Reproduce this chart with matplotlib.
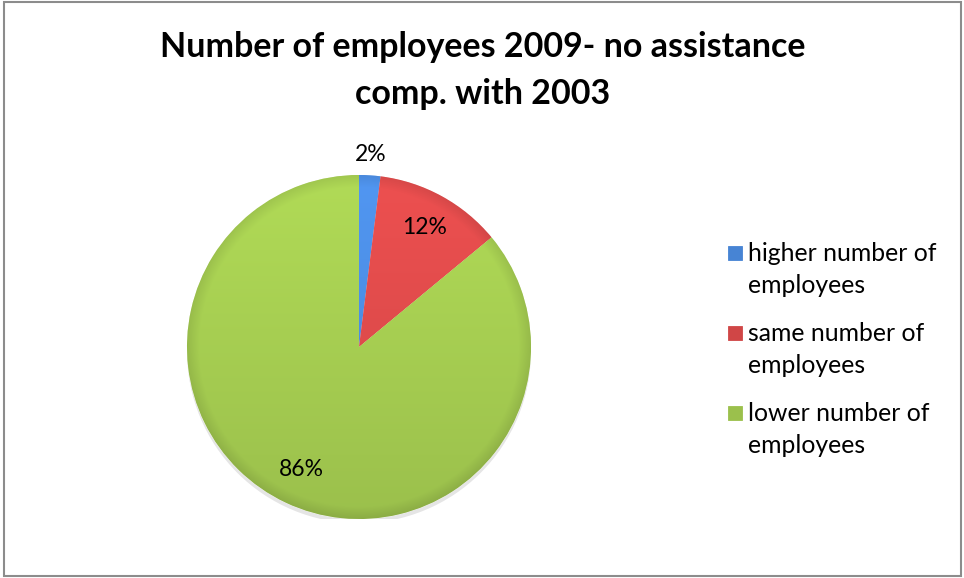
import matplotlib

matplotlib.use("Agg")
import matplotlib.pyplot as plt
from matplotlib.colors import to_rgb
from matplotlib.patches import Circle, Rectangle
import numpy as np

title_lines = ["Number of employees 2009- no assistance", "comp. with 2003"]
categories = ["higher number of\nemployees", "same number of\nemployees", "lower number of\nemployees"]
shares = [2, 12, 86]
colors = ["#4784d4", "#d04646", "#9bc04c"]

W, H = 964, 578
fig = plt.figure(figsize=(W / 100, H / 100), dpi=100)
fig.patch.set_facecolor("white")

# chart area frame
fig.add_artist(Rectangle((4 / W, 2 / H), (W - 7) / W, (H - 4) / H, transform=fig.transFigure,
                         fill=False, edgecolor="#8c8c8c", linewidth=1.5))

cx, cy, r = 359, 347, 172
ax = fig.add_axes([(cx - r) / W, (H - cy - r) / H, 2 * r / W, 2 * r / H])

# faint drop shadow under the pie
ax.add_patch(Circle((0.0, -0.025), 1.0, facecolor="#000000", alpha=0.10, edgecolor="none", zorder=0))

wedges, _ = ax.pie(shares, colors=colors, startangle=90, counterclock=False, radius=1,
                   wedgeprops=dict(linewidth=0))

# top-to-bottom shading plus a darker rim, clipped to each slice
yy, xx = np.mgrid[1:-1:400j, -1:1:400j]
rr = np.hypot(xx, yy)
shade = 1.07 + 0.07 * yy - 0.10 * np.clip((rr - 0.93) / 0.07, 0, 1)
for w, c in zip(wedges, colors):
    rgb = np.clip(np.array(to_rgb(c))[None, None, :] * shade[:, :, None], 0, 1)
    im = ax.imshow(rgb, extent=(-1, 1, -1, 1), zorder=w.get_zorder() + 0.1, interpolation="bilinear")
    im.set_clip_path(w)
    w.set_edgecolor("white")
    w.set_linewidth(0.4)

ax.set_xlim(-1, 1)
ax.set_ylim(-1, 1)
ax.set_aspect("auto")
ax.axis("off")

# percentage labels: small slice outside, others inside
for w, v in zip(wedges, shares):
    mid = np.deg2rad((w.theta1 + w.theta2) / 2)
    d = 1.12 if v < 5 else 0.79
    ax.text(d * np.cos(mid), d * np.sin(mid), f"{v}%", ha="center", va="center",
            fontsize=16.5, family="Lato", color="black", clip_on=False, zorder=10)

for i, line in enumerate(title_lines):
    fig.text(483 / W, 1 - (57 + 47 * i) / H, line, ha="center", va="baseline",
             fontsize=24.5, fontweight="bold", family="Lato")

# legend: square key beside the first line of each label
for i, (lab, c) in enumerate(zip(categories, colors)):
    ty = 261 + 80 * i
    fig.add_artist(Rectangle((728 / W, 1 - (ty - 1) / H), 14 / W, 14 / H, transform=fig.transFigure,
                             facecolor=c, edgecolor=c, linewidth=0.6))
    for j, part in enumerate(lab.split("\n")):
        fig.text(748 / W, 1 - (ty + 32 * j) / H, part, ha="left", va="baseline",
                 fontsize=17.8, family="Lato")

fig.savefig("out.png", dpi=100)
